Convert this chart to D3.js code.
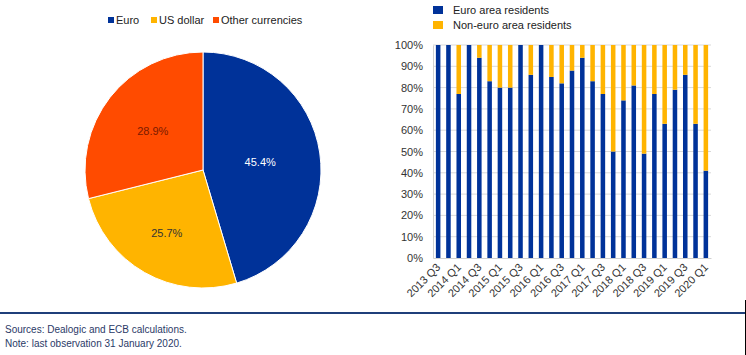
<!DOCTYPE html>
<html>
<head>
<meta charset="utf-8">
<script src="https://cdn.jsdelivr.net/npm/d3@7"></script>
<style>
  html, body { margin: 0; padding: 0; background: #fff; }
  svg { display: block; font-family: "Liberation Sans", Arial, sans-serif; }
</style>
</head>
<body>
<svg id="chart" width="746" height="355"></svg>
<script>
// ---- Pie data ----
const pieCategories = ["Euro", "US dollar", "Other currencies"];
const pieValues = [45.4, 25.7, 28.9];
const pieColors = ["#003299", "#FFB400", "#FF4B00"];
const pieLabelColors = ["#ffffff", "#333333", "#7a1a00"];
const pieLabelRadius = [0.49, 0.62, 0.54];

// ---- Bar data ----
const quarters = [
  "2013 Q3","2013 Q4","2014 Q1","2014 Q2","2014 Q3","2014 Q4",
  "2015 Q1","2015 Q2","2015 Q3","2015 Q4","2016 Q1","2016 Q2",
  "2016 Q3","2016 Q4","2017 Q1","2017 Q2","2017 Q3","2017 Q4",
  "2018 Q1","2018 Q2","2018 Q3","2018 Q4","2019 Q1","2019 Q2",
  "2019 Q3","2019 Q4","2020 Q1"
];
const euroAreaShare = [
  100, 100, 77, 100, 94, 83,
  80, 80, 100, 86, 100, 85,
  82, 88, 94, 83, 77, 50,
  74, 81, 49, 77, 63, 79,
  86, 63, 41
];
const nonEuroShare = euroAreaShare.map(v => 100 - v);
const barSeries = ["Euro area residents", "Non-euro area residents"];
const barColors = ["#003299", "#FFB400"];
const yTicks = [0, 10, 20, 30, 40, 50, 60, 70, 80, 90, 100];

const sources = "Sources: Dealogic and ECB calculations.";
const note = "Note: last observation 31 January 2020.";

const svg = d3.select("#chart");

// ================= PIE =================
const cx = 203, cy = 170, R = 118;
const pieG = svg.append("g").attr("transform", `translate(${cx},${cy})`);
const pie = d3.pie().sort(null).value(d => d)(pieValues);
const arc = d3.arc().innerRadius(0).outerRadius(R);
pieG.selectAll("path.slice").data(pie).join("path")
  .attr("class", "slice")
  .attr("d", arc)
  .attr("fill", (d, i) => pieColors[i])
  .attr("stroke", "#fff")
  .attr("stroke-width", 1);
pieG.selectAll("text.lbl").data(pie).join("text")
  .attr("class", "lbl")
  .attr("transform", (d, i) => {
    const r = R * pieLabelRadius[i];
    const [x, y] = d3.arc().innerRadius(r).outerRadius(r).centroid(d);
    return `translate(${x},${y})`;
  })
  .attr("text-anchor", "middle")
  .attr("dy", "0.35em")
  .attr("font-size", 11)
  .attr("fill", (d, i) => pieLabelColors[i])
  .text(d => d.data.toFixed(1) + "%");

// Pie legend
const pieLegendX = [108, 151, 213];
const pl = svg.append("g");
pieCategories.forEach((c, i) => {
  pl.append("rect").attr("x", pieLegendX[i]).attr("y", 17).attr("width", 6).attr("height", 6).attr("fill", pieColors[i]);
  pl.append("text").attr("x", pieLegendX[i] + 8).attr("y", 24).attr("font-size", 11).attr("fill", "#222").text(c);
});

// ================= BARS =================
const x = d3.scaleBand().domain(quarters).range([433, 711]).paddingInner(0.56).paddingOuter(0.28);
const y = d3.scaleLinear().domain([0, 100]).range([258, 45]);

// gridlines
svg.append("g").selectAll("line").data(yTicks.filter(t => t > 0)).join("line")
  .attr("x1", 433).attr("x2", 711)
  .attr("y1", d => y(d)).attr("y2", d => y(d))
  .attr("stroke", "#d9d9d9").attr("stroke-width", 1);

// y axis
const yAxis = d3.axisLeft(y).tickValues(yTicks).tickFormat(d => d + "%").tickSize(0).tickPadding(10);
const yg = svg.append("g").attr("transform", "translate(433,0)").call(yAxis);
yg.select(".domain").attr("stroke", "#d0d0d0");
yg.selectAll("text").attr("font-size", 11).attr("fill", "#333").attr("font-family", "Liberation Sans, Arial, sans-serif");

// bars
const bg = svg.append("g");
bg.selectAll("rect.euro").data(quarters).join("rect")
  .attr("class", "euro")
  .attr("x", d => x(d)).attr("width", x.bandwidth())
  .attr("y", (d, i) => y(euroAreaShare[i]))
  .attr("height", (d, i) => y(0) - y(euroAreaShare[i]))
  .attr("fill", barColors[0]);
bg.selectAll("rect.non").data(quarters).join("rect")
  .attr("class", "non")
  .attr("x", d => x(d)).attr("width", x.bandwidth())
  .attr("y", (d, i) => y(euroAreaShare[i] + nonEuroShare[i]))
  .attr("height", (d, i) => y(euroAreaShare[i]) - y(euroAreaShare[i] + nonEuroShare[i]))
  .attr("fill", barColors[1]);

// x axis
const xAxis = d3.axisBottom(x).tickValues(quarters.filter((q, i) => i % 2 === 0)).tickSize(0).tickPadding(0);
const xg = svg.append("g").attr("transform", "translate(0,258)").call(xAxis);
xg.select(".domain").attr("stroke", "#d0d0d0");
xg.selectAll("text")
  .attr("font-size", 11).attr("fill", "#333").attr("font-family", "Liberation Sans, Arial, sans-serif")
  .attr("text-anchor", "end")
  .attr("dy", 0).attr("y", 0)
  .attr("transform", "translate(3,10) rotate(-45)");

// bar legend
barSeries.forEach((s, i) => {
  svg.append("rect").attr("x", 433).attr("y", 6 + i * 15).attr("width", 10).attr("height", 8).attr("fill", barColors[i]);
  svg.append("text").attr("x", 453).attr("y", 14 + i * 15).attr("font-size", 11).attr("fill", "#222").text(s);
});

// ================= FOOTER =================
svg.append("line").attr("x1", 0).attr("x2", 746).attr("y1", 313).attr("y2", 313)
  .attr("stroke", "#1f3f7a").attr("stroke-width", 2);
svg.append("line").attr("x1", 745.5).attr("x2", 745.5).attr("y1", 300).attr("y2", 355)
  .attr("stroke", "#000").attr("stroke-width", 1);
svg.append("text").attr("x", 5).attr("y", 333).attr("font-size", 10).attr("fill", "#2b3a67").text(sources);
svg.append("text").attr("x", 5).attr("y", 347).attr("font-size", 10).attr("fill", "#2b3a67").text(note);
</script>
</body>
</html>
